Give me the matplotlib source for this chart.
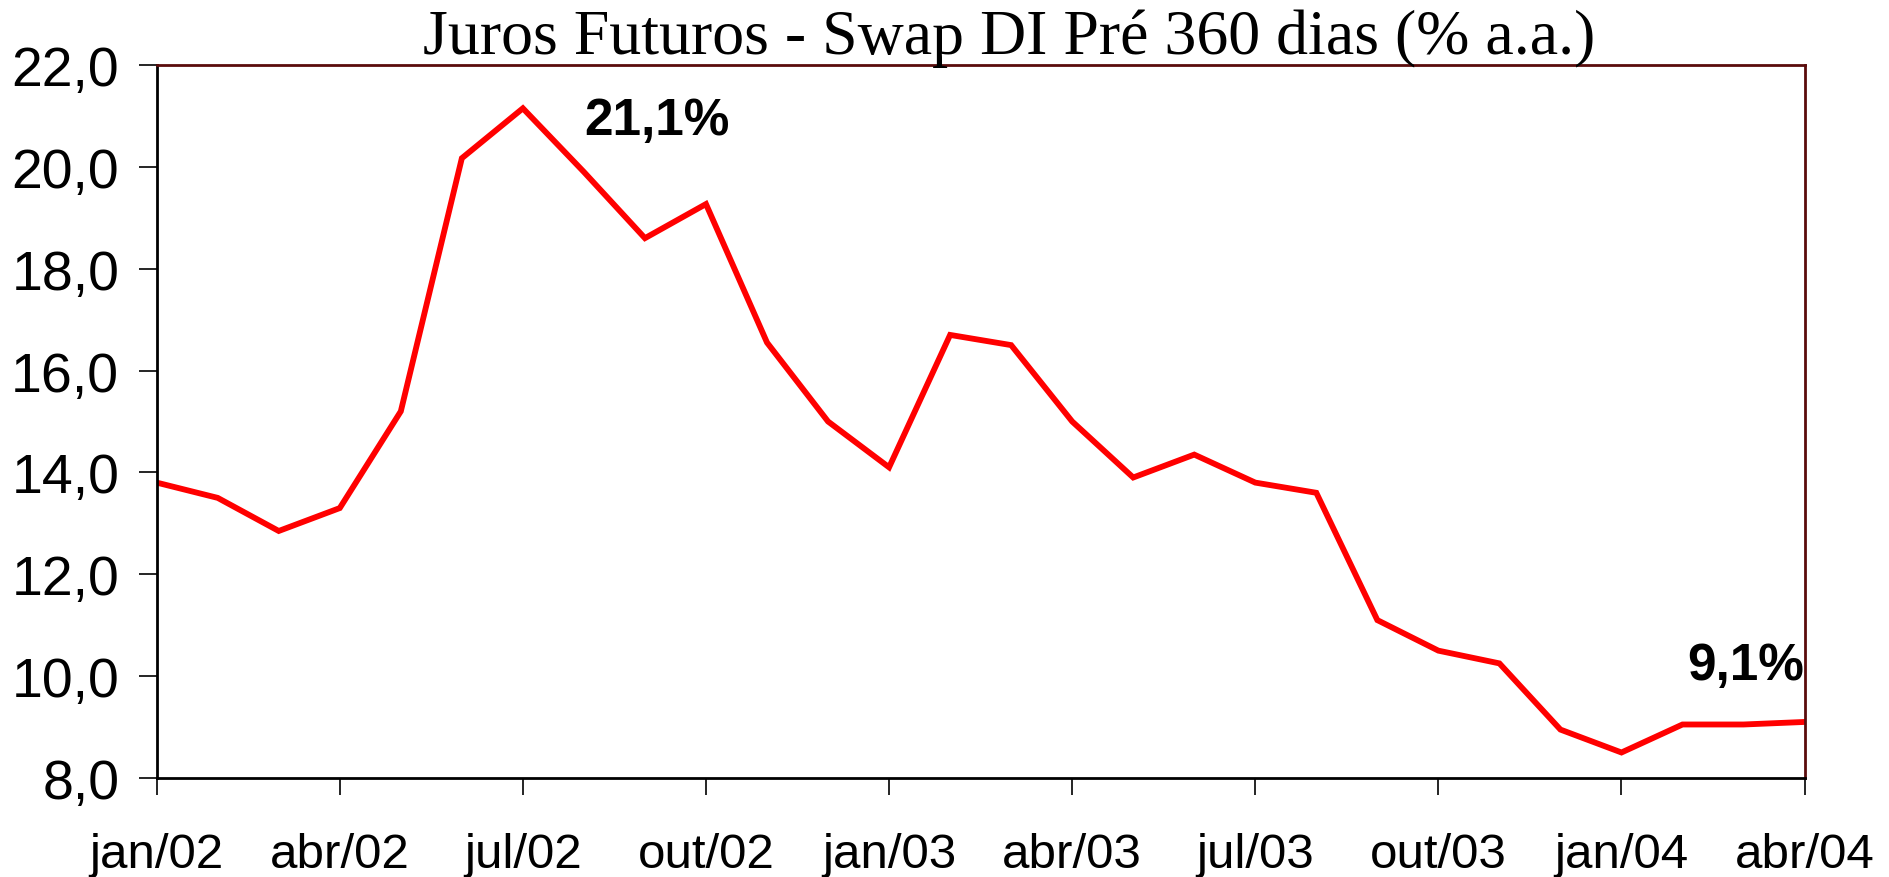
import matplotlib
matplotlib.use('Agg')
import matplotlib.pyplot as plt

# Swap DI Pré 360 dias, mensal jan/02 - abr/04
meses = ['jan/02', 'fev/02', 'mar/02', 'abr/02', 'mai/02', 'jun/02', 'jul/02', 'ago/02',
         'set/02', 'out/02', 'nov/02', 'dez/02', 'jan/03', 'fev/03', 'mar/03', 'abr/03',
         'mai/03', 'jun/03', 'jul/03', 'ago/03', 'set/03', 'out/03', 'nov/03', 'dez/03',
         'jan/04', 'fev/04', 'mar/04', 'abr/04']
swap = [13.8, 13.5, 12.85, 13.3, 15.2, 20.17, 21.15, 19.9,
        18.6, 19.27, 16.55, 15.0, 14.1, 16.7, 16.5, 15.0,
        13.9, 14.35, 13.8, 13.6, 11.1, 10.5, 10.25, 8.95,
        8.5, 9.05, 9.05, 9.1]
yticks = [8, 10, 12, 14, 16, 18, 20, 22]

x = list(range(len(meses)))

fig = plt.figure(figsize=(18.9, 8.78), dpi=100)
ax = fig.add_axes([0.0829, 0.1128, 0.8719, 0.812])

ax.plot(x, swap, color='#ff0000', lw=4.2, solid_joinstyle='miter')

ax.set_xlim(0, len(meses) - 1)
ax.set_ylim(8, 22)
ax.set_yticks(yticks)
ax.set_yticklabels([f'{v:.1f}'.replace('.', ',') for v in yticks],
                   fontfamily='Liberation Sans', fontsize=40)
ax.set_xticks(x[::3])
ax.set_xticklabels(meses[::3], fontfamily='Liberation Sans', fontsize=35.5)
ax.tick_params(axis='y', direction='out', length=13, width=1.2, pad=14)
ax.tick_params(axis='x', direction='out', length=12, width=1.2, pad=27)

for lado in ['left', 'bottom']:
    ax.spines[lado].set_color('black')
    ax.spines[lado].set_linewidth(2)
for lado in ['top', 'right']:
    ax.spines[lado].set_color('#5a0c0c')
    ax.spines[lado].set_linewidth(2)

ax.text(7.0, 20.92, '21,1%', fontfamily='Liberation Sans', fontweight='bold',
        fontsize=37, ha='left', va='center')
ax.text(27, 10.2, '9,1%', fontfamily='Liberation Sans', fontweight='bold',
        fontsize=37, ha='right', va='center')

fig.text(0.534, 1 - 54 / 878, 'Juros Futuros - Swap DI Pré 360 dias (% a.a.)',
         fontfamily='Liberation Serif', fontsize=46, ha='center', va='baseline')

fig.savefig('out.png', dpi=100)
